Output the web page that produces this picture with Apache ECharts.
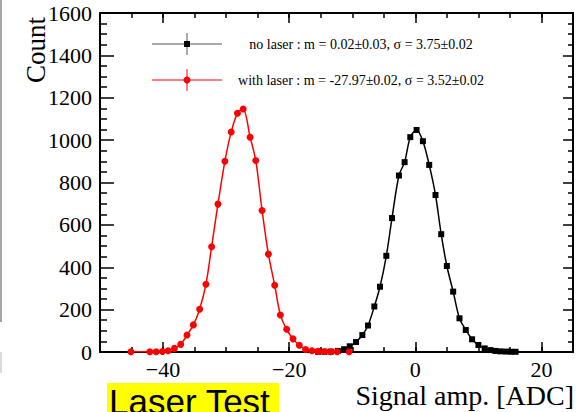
<!DOCTYPE html>
<html>
<head>
<meta charset="utf-8">
<script src="https://cdn.jsdelivr.net/npm/echarts@6/dist/echarts.min.js"></script>
<style>html,body{margin:0;padding:0;background:#fff;}#c{width:579px;height:412px;}</style>
</head>
<body>
<div id="c"></div>
<script>
// ---- data ----
const noLaserX = [-15.4, -14.4, -13.4, -12.3, -11.3, -10.4, -9.4, -8.4, -7.5, -6.5, -5.6, -4.6, -3.7, -2.6, -1.7, -0.8, 0.2, 1.2, 2.2, 3.2, 4.1, 5.0, 6.0, 7.0, 8.0, 9.0, 10.0, 11.0, 11.9, 12.7, 13.5, 14.4, 15.2, 15.9];
const noLaserY = [1, 1, 2, 5, 13, 27, 47, 80, 125, 215, 308, 454, 632, 833, 896, 1014, 1048, 995, 883, 741, 556, 406, 285, 159, 104, 60, 33, 17, 9, 5, 3, 2, 1, 1];
const laserX = [-45.1, -42.1, -41.1, -40.1, -39.2, -38.2, -37.2, -36.2, -35.2, -34.2, -33.2, -32.3, -31.3, -30.2, -29.2, -28.2, -27.3, -26.2, -25.3, -24.3, -23.3, -22.3, -21.4, -20.4, -19.4, -18.4, -17.4, -16.4, -15.4, -14.4, -13.4, -12.4, -10.5];
const laserY = [1, 1, 1, 2, 6, 17, 36, 80, 128, 202, 320, 497, 698, 900, 1038, 1127, 1147, 1014, 904, 668, 462, 315, 175, 107, 62, 32, 12, 6, 3, 2, 1, 1, 1];
const xMajorTicks = [-40, -20, 0, 20];
const legendNoLaser = 'no laser : m = 0.02\u00b10.03, \u03c3 = 3.75\u00b10.02';
const legendLaser = 'with laser : m = -27.97\u00b10.02, \u03c3 = 3.52\u00b10.02';
const xTitle = 'Signal amp. [ADC]';
const yTitle = 'Count';
const bannerText = 'Laser Test';

const SERIF = "Liberation Serif";
const SANS = "Liberation Sans";
const pairs = (xs, ys) => xs.map((x, i) => [x, ys[i]]);
const minusFmt = v => String(v).replace('-', '\u2212');

const chart = echarts.init(document.getElementById('c'), null, {renderer: 'svg'});

const baseX = {
  type: 'value', min: -50, max: 25,
  splitLine: {show: false},
  axisLine: {show: false, onZero: false}
};
const baseY = {
  type: 'value', min: 0, max: 1600, interval: 200,
  splitLine: {show: false},
  axisLine: {show: true, onZero: false, lineStyle: {color: '#000', width: 2}}
};

chart.setOption({
  animation: false,
  backgroundColor: '#fff',
  textStyle: {fontFamily: SERIF},
  grid: {left: 100, right: 6, top: 13, bottom: 60, containLabel: false},
  xAxis: [
    Object.assign({}, baseX, {
      position: 'bottom',
      axisLine: {show: true, onZero: false, lineStyle: {color: '#000', width: 2}},
      axisTick: {show: true, inside: true, length: 10, customValues: xMajorTicks, lineStyle: {color: '#000', width: 1.5}},
      axisLabel: {show: true, customValues: xMajorTicks, formatter: minusFmt, fontFamily: SERIF, fontSize: 22, color: '#000', margin: 6}
    }),
    Object.assign({}, baseX, {
      position: 'bottom', interval: 5,
      axisTick: {show: true, inside: true, length: 5, lineStyle: {color: '#000', width: 1.5}},
      axisLabel: {show: false}
    }),
    Object.assign({}, baseX, {
      position: 'top',
      axisLine: {show: true, onZero: false, lineStyle: {color: '#000', width: 2}},
      axisTick: {show: true, inside: true, length: 10, customValues: xMajorTicks, lineStyle: {color: '#000', width: 1.5}},
      axisLabel: {show: false}
    }),
    Object.assign({}, baseX, {
      position: 'top', interval: 5,
      axisTick: {show: true, inside: true, length: 5, lineStyle: {color: '#000', width: 1.5}},
      axisLabel: {show: false}
    })
  ],
  yAxis: [
    Object.assign({}, baseY, {
      position: 'left',
      axisTick: {show: true, inside: true, length: 14, lineStyle: {color: '#000', width: 1.5}},
      minorTick: {show: true, splitNumber: 4, length: 7, lineStyle: {color: '#000', width: 1.5}},
      axisLabel: {show: true, formatter: v => String(v), fontFamily: SERIF, fontSize: 22, color: '#000', margin: 8}
    }),
    Object.assign({}, baseY, {
      position: 'right',
      axisTick: {show: true, inside: true, length: 10, lineStyle: {color: '#000', width: 1.5}},
      minorTick: {show: true, splitNumber: 4, length: 5, lineStyle: {color: '#000', width: 1.5}},
      axisLabel: {show: false}
    })
  ],
  series: [
    {
      name: 'no laser', type: 'line', xAxisIndex: 0, yAxisIndex: 0,
      data: pairs(noLaserX, noLaserY),
      smooth: 0.3,
      symbol: 'rect', symbolSize: 6, showAllSymbol: true,
      lineStyle: {color: '#000', width: 1.5},
      itemStyle: {color: '#000'}
    },
    {
      name: 'with laser', type: 'line', xAxisIndex: 0, yAxisIndex: 0,
      data: pairs(laserX, laserY),
      smooth: 0.3,
      symbol: 'circle', symbolSize: 7, showAllSymbol: true,
      lineStyle: {color: '#ff0000', width: 1.5},
      itemStyle: {color: '#ff0000'}
    }
  ],
  graphic: [
    // slide artifacts on left edge
    {type: 'line', shape: {x1: 1, y1: 0, x2: 1, y2: 322}, style: {stroke: '#888', lineWidth: 1.5}},
    {type: 'line', shape: {x1: 1, y1: 352, x2: 1, y2: 373}, style: {stroke: '#ccc', lineWidth: 1.5}},
    // axis titles
    {type: 'text', x: 36, y: 17, rotation: Math.PI / 2,
     style: {text: yTitle, fontFamily: SERIF, fontSize: 27, fill: '#000', align: 'right', verticalAlign: 'middle'}},
    {type: 'text', x: 574, y: 395,
     style: {text: xTitle, fontFamily: SERIF, fontSize: 28, fill: '#000', align: 'right', verticalAlign: 'middle'}},
    // legend: no laser
    {type: 'line', shape: {x1: 152, y1: 44, x2: 222, y2: 44}, style: {stroke: '#555', lineWidth: 1}},
    {type: 'line', shape: {x1: 187, y1: 33, x2: 187, y2: 55}, style: {stroke: '#555', lineWidth: 1}},
    {type: 'rect', shape: {x: 184, y: 41, width: 6, height: 6}, style: {fill: '#000'}},
    {type: 'text', x: 361, y: 44,
     style: {text: legendNoLaser, fontFamily: SERIF, fontSize: 14, fill: '#000', align: 'center', verticalAlign: 'middle'}},
    // legend: with laser
    {type: 'line', shape: {x1: 152, y1: 80, x2: 222, y2: 80}, style: {stroke: '#ff0000', lineWidth: 1}},
    {type: 'line', shape: {x1: 187, y1: 69, x2: 187, y2: 91}, style: {stroke: '#ff0000', lineWidth: 1}},
    {type: 'circle', shape: {cx: 187, cy: 80, r: 3.5}, style: {fill: '#ff0000'}},
    {type: 'text', x: 361, y: 80,
     style: {text: legendLaser, fontFamily: SERIF, fontSize: 14, fill: '#000', align: 'center', verticalAlign: 'middle'}},
    // banner
    {type: 'rect', shape: {x: 107, y: 383, width: 172, height: 29}, style: {fill: '#ffff00'}},
    {type: 'text', x: 109, y: 384,
     style: {text: bannerText, fontFamily: SANS, fontSize: 35, fill: '#000', align: 'left', verticalAlign: 'top'}}
  ]
});
</script>
</body>
</html>
